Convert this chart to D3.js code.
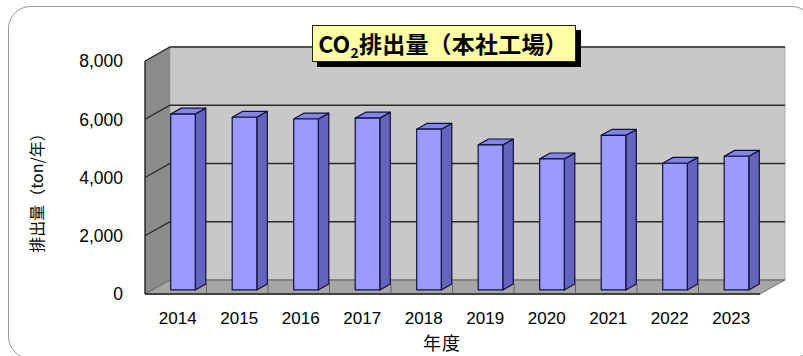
<!DOCTYPE html>
<html>
<head>
<meta charset="utf-8">
<script src="https://cdn.jsdelivr.net/npm/d3@7"></script>
<style>
  html, body { margin: 0; padding: 0; background: #ffffff; }
  svg { display: block; }
</style>
</head>
<body>
<svg id="chart" width="803" height="356"></svg>
<script>
// ---- data ----
const years = ["2014", "2015", "2016", "2017", "2018", "2019", "2020", "2021", "2022", "2023"];
const emissions = [6040, 5930, 5870, 5900, 5520, 4980, 4500, 5310, 4350, 4590];
const yTicks = [0, 2000, 4000, 6000, 8000];
const titleMain = "CO";
const titleSub = "2";
const titleRest = "排出量（本社工場）";
const yAxisTitle = "排出量（ton/年）";
const xAxisTitle = "年度";

// ---- layout ----
const svg = d3.select("#chart");
const DX = 25, DY = 14;            // depth projection of the 3D box
const zFront = 0.29, zBack = 0.71; // bar depth within the box

const x = d3.scaleBand().domain(years).range([145, 760]).paddingInner(0.6).paddingOuter(0.3);
const y = d3.scaleLinear().domain([0, 8000]).range([294, 61]);
const step = x.step();
const x0 = 145, x1 = 760;

function P(px, v, z) { return [px + z * DX, y(v) - z * DY]; }
function poly(pts) { return pts.map(p => p.join(",")).join(" "); }

// outer rounded frame
svg.append("rect")
  .attr("x", 8.5).attr("y", 6.5).attr("width", 805).attr("height", 352)
  .attr("rx", 22).attr("ry", 22)
  .attr("fill", "none").attr("stroke", "#9a9a9a").attr("stroke-width", 1);

const vmax = 8000;

// back wall
svg.append("polygon")
  .attr("points", poly([P(x0, vmax, 1), P(x1, vmax, 1), P(x1, 0, 1), P(x0, 0, 1)]))
  .attr("fill", "#c8c8c8").attr("stroke", "#b0b0b0").attr("stroke-width", 1);

// left side wall
svg.append("polygon")
  .attr("points", poly([P(x0, vmax, 0), P(x0, vmax, 1), P(x0, 0, 1), P(x0, 0, 0)]))
  .attr("fill", "#8c8c8c").attr("stroke", "none");

// floor
svg.append("polygon")
  .attr("points", poly([P(x0, 0, 0), P(x1, 0, 0), P(x1, 0, 1), P(x0, 0, 1)]))
  .attr("fill", "#a6a6a6").attr("stroke", "#7a7a7a").attr("stroke-width", 1);

// gridlines (side wall + back wall)
yTicks.forEach(v => {
  svg.append("polyline")
    .attr("points", poly([P(x0, v, 0), P(x0, v, 1), P(x1, v, 1)]))
    .attr("fill", "none")
    .attr("stroke", v === 0 ? "#6e6e6e" : "#2a2a2a")
    .attr("stroke-width", v === 0 ? 1 : 1.4);
});

// front axes lines
svg.append("line")
  .attr("x1", x0).attr("y1", y(vmax)).attr("x2", x0).attr("y2", y(0))
  .attr("stroke", "#222").attr("stroke-width", 1.4);
svg.append("line")
  .attr("x1", x0).attr("y1", y(0)).attr("x2", x1).attr("y2", y(0))
  .attr("stroke", "#222").attr("stroke-width", 1.4);

// category tick marks
years.forEach((yr, i) => {
  if (i === 0) return;
  const bx = x0 + i * step;
  svg.append("line")
    .attr("x1", bx).attr("y1", y(0)).attr("x2", bx).attr("y2", y(0) - 10)
    .attr("stroke", "#555").attr("stroke-width", 0.8);
});

// bars
const bw = x.bandwidth();
const dzx = (zBack - zFront) * DX, dzy = (zBack - zFront) * DY;
const bars = svg.append("g");
years.forEach((yr, i) => {
  const v = emissions[i];
  const left = x(yr) + zFront * DX;
  const right = left + bw;
  const top = y(v) - zFront * DY;
  const bottom = y(0) - zFront * DY;
  const g = bars.append("g").attr("stroke", "#10103a").attr("stroke-width", 1.2).attr("stroke-linejoin", "round");
  g.append("polygon")
    .attr("points", poly([[right, top], [right + dzx, top - dzy], [right + dzx, bottom - dzy], [right, bottom]]))
    .attr("fill", "#6464bd");
  g.append("polygon")
    .attr("points", poly([[left, top], [left + dzx, top - dzy], [right + dzx, top - dzy], [right, top]]))
    .attr("fill", "#8585e6");
  g.append("rect")
    .attr("x", left).attr("y", top).attr("width", bw).attr("height", bottom - top)
    .attr("fill", "#9b9bff");
});

// y tick labels
svg.append("g").selectAll("text").data(yTicks).join("text")
  .attr("x", 123).attr("y", d => y(d)).attr("dy", "0.36em")
  .attr("text-anchor", "end")
  .attr("font-family", "'Liberation Sans', Arial, sans-serif")
  .attr("font-size", 17.5).attr("fill", "#000")
  .text(d => d3.format(",")(d));

// x tick labels
svg.append("g").selectAll("text").data(years).join("text")
  .attr("x", d => x(d) + bw / 2 + 2).attr("y", 324)
  .attr("text-anchor", "middle")
  .attr("font-family", "'Liberation Sans', Arial, sans-serif")
  .attr("font-size", 17).attr("fill", "#000")
  .text(d => d);

// axis titles
svg.append("text")
  .attr("transform", "translate(43,189) rotate(-90)")
  .attr("text-anchor", "middle")
  .attr("font-family", "'Noto Sans CJK JP', sans-serif")
  .attr("font-size", 16).attr("fill", "#000")
  .text(yAxisTitle);

svg.append("text")
  .attr("x", 442).attr("y", 350)
  .attr("text-anchor", "middle")
  .attr("font-family", "'Noto Sans CJK JP', sans-serif")
  .attr("font-size", 18).attr("letter-spacing", 1).attr("fill", "#000")
  .text(xAxisTitle);

// title box with shadow
svg.append("rect").attr("x", 317).attr("y", 30).attr("width", 264).attr("height", 37).attr("fill", "#000");
svg.append("rect").attr("x", 312.5).attr("y", 25.5).attr("width", 263).attr("height", 36)
  .attr("fill", "#ffffa6").attr("stroke", "#222").attr("stroke-width", 1);
const t = svg.append("text")
  .attr("x", 443).attr("y", 52.5)
  .attr("text-anchor", "middle")
  .attr("font-family", "'Noto Sans CJK JP', sans-serif")
  .attr("font-weight", "bold")
  .attr("font-size", 23).attr("letter-spacing", 0.2).attr("fill", "#000");
t.append("tspan").text(titleMain);
t.append("tspan").attr("font-size", 14).attr("dy", 5).text(titleSub);
t.append("tspan").attr("dy", -5).text(titleRest);
</script>
</body>
</html>
